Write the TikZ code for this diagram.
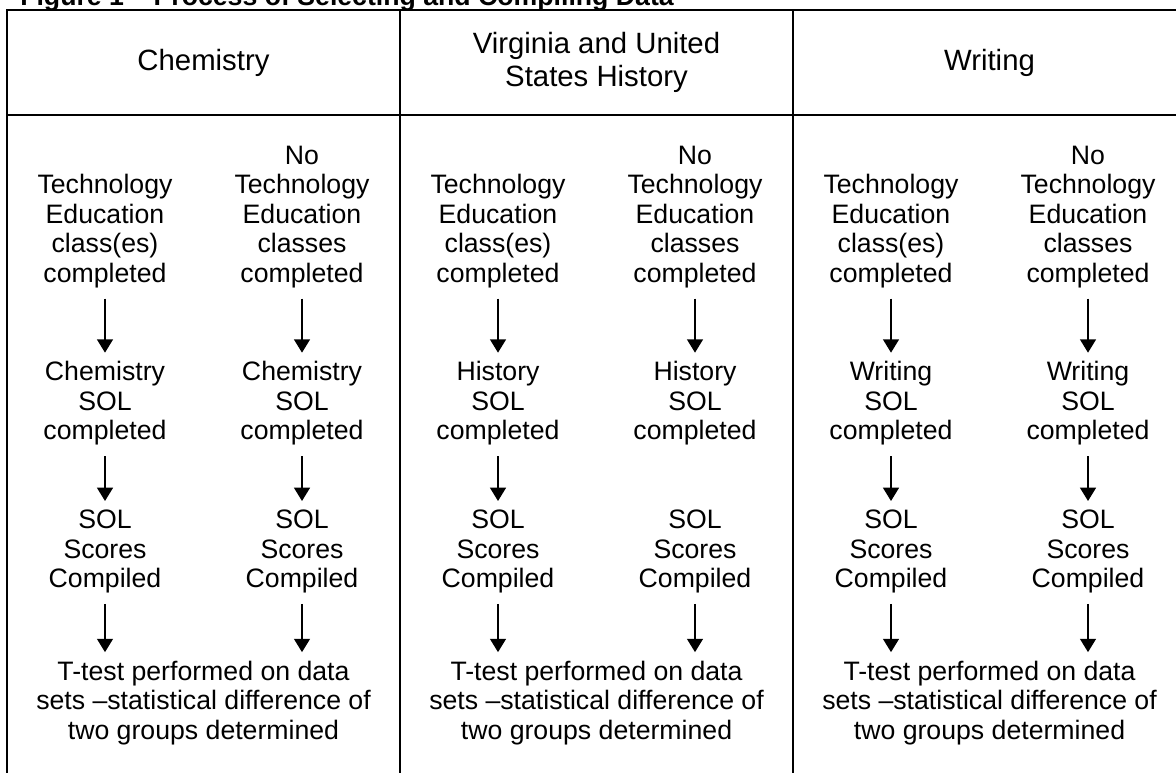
\documentclass[tikz,border=0pt]{standalone}
\usepackage{fontspec}
\setmainfont{Liberation Sans}
\usetikzlibrary{arrows.meta, positioning}

\begin{document}
\begin{tikzpicture}[x=0.75pt, y=-0.75pt,
        grid/.style={line width=2pt},
        heading/.style={align=center, inner sep=0pt, font=\fontsize{22}{24.5}\selectfont},
        stage/.style={align=center, inner sep=0pt, font=\fontsize{20}{22.1}\selectfont},
        flow/.style={-{Triangle[width=12pt, length=10pt]}, line width=1pt, shorten <=8pt, shorten >=6.5pt}
    ]
        \useasboundingbox (0,0) rectangle (1176,773);

        % Title
        \node[anchor=base west, inner sep=0pt, font=\fontsize{20}{24}\selectfont\bfseries] (title) at (20,5.5) {Figure 1 – Process of Selecting and Compiling Data};

        % Table
        \draw[grid] (1180,10) -- (7,10) -- (7,780);
        \draw[grid] (7,115) -- (1180,115);
        \draw[grid] (400,10) -- (400,780);
        \draw[grid] (793,10) -- (793,780);

        % Headings
        \node[heading] (chem) at (203.5,62.5) {Chemistry};
        \node[heading] (hist) at (596.5,62.5) {Virginia and United\\States History};
        \node[heading] (writ) at (989.5,62.5) {Writing};

        % Chemistry
        \node[stage, anchor=south] (chemA1) at (105,288) {Technology\\Education\\class(es)\\completed};
        \node[stage, anchor=south] (chemB1) at (302,288) {No\\Technology\\Education\\classes\\completed};
        \node[stage, below=55pt of chemA1] (chemA2) {Chemistry\\SOL\\completed};
        \node[stage, below=55pt of chemB1] (chemB2) {Chemistry\\SOL\\completed};
        \node[stage, below=48pt of chemA2] (chemA3) {SOL\\Scores\\Compiled};
        \node[stage, below=48pt of chemB2] (chemB3) {SOL\\Scores\\Compiled};
        \node[stage, anchor=north] (chemT) at (203.5,660.8) {T-test performed on data\\sets –statistical difference of\\two groups determined};

        % History
        \node[stage, anchor=south] (histA1) at (498,288) {Technology\\Education\\class(es)\\completed};
        \node[stage, anchor=south] (histB1) at (695,288) {No\\Technology\\Education\\classes\\completed};
        \node[stage, below=55pt of histA1] (histA2) {History\\SOL\\completed};
        \node[stage, below=55pt of histB1] (histB2) {History\\SOL\\completed};
        \node[stage, below=48pt of histA2] (histA3) {SOL\\Scores\\Compiled};
        \node[stage, below=48pt of histB2] (histB3) {SOL\\Scores\\Compiled};
        \node[stage, anchor=north] (histT) at (596.5,660.8) {T-test performed on data\\sets –statistical difference of\\two groups determined};

        % Writing
        \node[stage, anchor=south] (writA1) at (891,288) {Technology\\Education\\class(es)\\completed};
        \node[stage, anchor=south] (writB1) at (1088,288) {No\\Technology\\Education\\classes\\completed};
        \node[stage, below=55pt of writA1] (writA2) {Writing\\SOL\\completed};
        \node[stage, below=55pt of writB1] (writB2) {Writing\\SOL\\completed};
        \node[stage, below=48pt of writA2] (writA3) {SOL\\Scores\\Compiled};
        \node[stage, below=48pt of writB2] (writB3) {SOL\\Scores\\Compiled};
        \node[stage, anchor=north] (writT) at (989.5,660.8) {T-test performed on data\\sets –statistical difference of\\two groups determined};

        % Arrows
        \draw[flow] (chemA1) -- (chemA2);
        \draw[flow] (chemB1) -- (chemB2);
        \draw[flow] (chemA2) -- (chemA3);
        \draw[flow] (chemB2) -- (chemB3);
        \draw[flow] (chemA3) -- (chemA3 |- chemT.north);
        \draw[flow] (chemB3) -- (chemB3 |- chemT.north);
        \draw[flow] (histA1) -- (histA2);
        \draw[flow] (histB1) -- (histB2);
        \draw[flow] (histA2) -- (histA3);
        \draw[flow] (histA3) -- (histA3 |- histT.north);
        \draw[flow] (histB3) -- (histB3 |- histT.north);
        \draw[flow] (writA1) -- (writA2);
        \draw[flow] (writB1) -- (writB2);
        \draw[flow] (writA2) -- (writA3);
        \draw[flow] (writB2) -- (writB3);
        \draw[flow] (writA3) -- (writA3 |- writT.north);
        \draw[flow] (writB3) -- (writB3 |- writT.north);
    \end{tikzpicture}
\end{document}
